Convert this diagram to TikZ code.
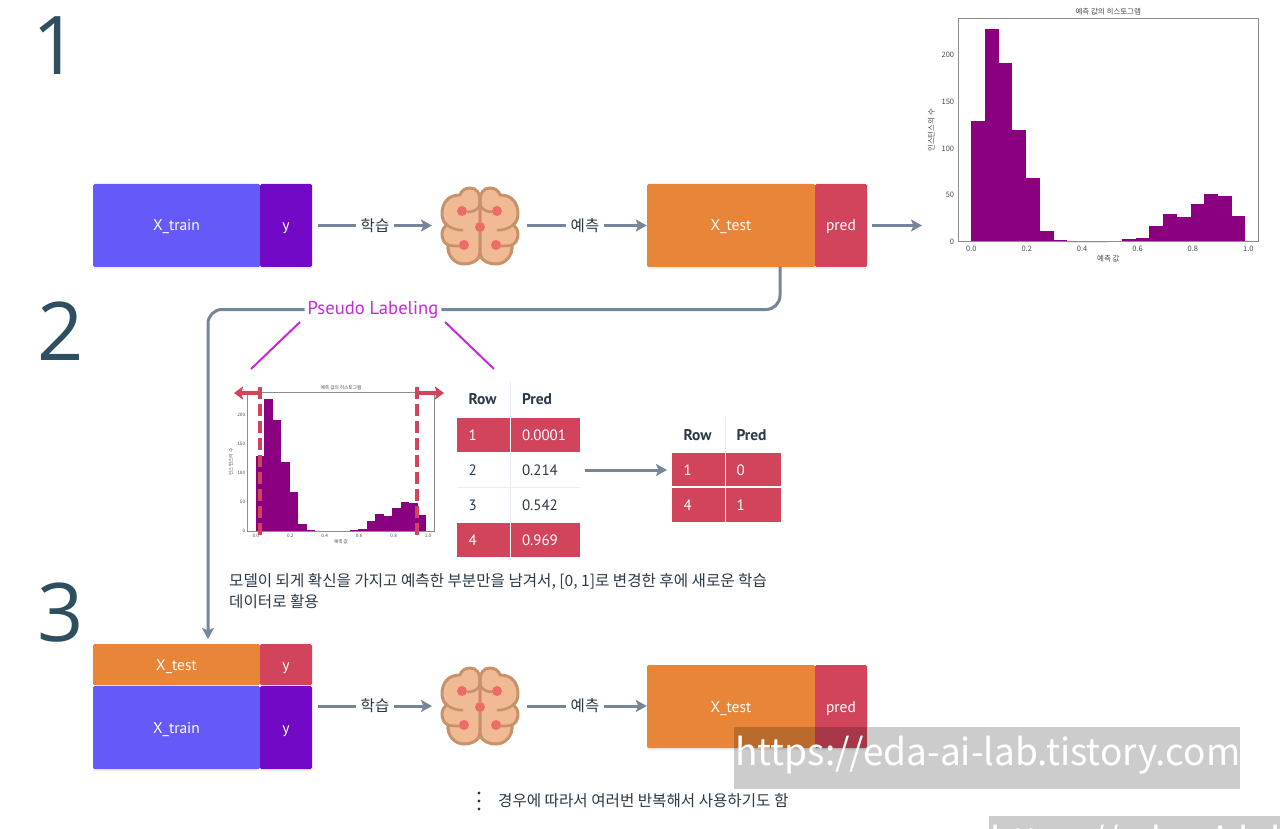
\documentclass[tikz,border=0pt]{standalone}
\usepackage{fontspec}
\usetikzlibrary{arrows.meta,positioning,shadows}
\setmainfont{PT Sans}
\newfontfamily\kr{Noto Sans CJK KR}
\newfontfamily\bignum{Open Sans}
\definecolor{trainblue}{HTML}{6659FA}
\definecolor{trainpurple}{HTML}{7209C7}
\definecolor{testorange}{HTML}{E88538}
\definecolor{predred}{HTML}{D1445B}
\definecolor{flowgray}{HTML}{76869A}
\definecolor{inkdark}{HTML}{2A3947}
\definecolor{numteal}{HTML}{2E4F60}
\definecolor{pseudopink}{HTML}{C32BD6}
\definecolor{barmagenta}{HTML}{8B0080}
\definecolor{brainfill}{HTML}{EFBA94}
\definecolor{brainline}{HTML}{C89168}
\definecolor{braindot}{HTML}{EE6C67}
\definecolor{rulegray}{HTML}{E8EDF3}

\tikzset{
  block/.style={inner sep=0pt, rounded corners=1.5, text=white, text height=11pt, text depth=0pt,
    font=\fontsize{15.5}{15.5}\selectfont, drop shadow={opacity=0.12, shadow xshift=0pt, shadow yshift=-2pt}},
  flow/.style={draw=flowgray, line width=3pt, -{Stealth[length=11pt,width=12pt,inset=2.5pt]}},
  plainflow/.style={draw=flowgray, line width=3pt},
  steplabel/.style={inner sep=0pt, text=inkdark, font=\kr\fontsize{15.5}{15.5}\selectfont},
  bignumber/.style={inner sep=0pt, text=numteal, font=\bignum\fontsize{81}{81}\selectfont},
  pseudoline/.style={draw=pseudopink, line width=2pt},
  redmark/.style={draw=predred, line width=4pt},
  cell/.style={inner sep=0pt, minimum height=34pt, text=inkdark, text width=#1, align=left, font=\fontsize{15}{15}\selectfont},
  cell/.default=30pt,
  headcell/.style={cell=#1, font=\bfseries\fontsize{15.5}{15.5}\selectfont},
  note/.style={inner sep=0pt, anchor=west, text=inkdark, font=\kr\fontsize{15.6}{15.6}\selectfont},
  ticklabel/.style={inner sep=0pt, text=black!70, font=\kr\fontsize{7.5}{7.5}\selectfont},
  watermark/.style={inner sep=0pt, anchor=west, text=white, font=\kr\fontsize{37}{37}\selectfont},
}

% histogram of the predictions, origin at the top left of the frame
\newcommand{\histplot}[1]{
  \foreach \h [count=\i from 0] in {129,228,192,120,68,12,2,0,0,0,1,3,4,17,30,27,40,51,49,28} {
    \fill[barmagenta] ({13+\i*13.7},223.4) rectangle ({13+(\i+1)*13.7},{223.4-\h*0.933});
  }
  \draw[black!45, line width=0.9pt] (0,0) rectangle (300.4,223.4);
  \foreach \t [count=\i from 0] in {0.0,0.2,0.4,0.6,0.8,1.0} {
    \node[ticklabel] (#1x\i) at ({13+\i*55.4},231) {\t};
  }
  \foreach \t [count=\i from 0] in {0,50,100,150,200} {
    \node[ticklabel, anchor=east] (#1y\i) at (-4,{223.4-\i*46.65}) {\t};
  }
  \node[ticklabel] (#1title) at (150,-7) {예측 값의 히스토그램};
  \node[ticklabel] (#1xlab) at (150,240) {예측 값};
  \node[ticklabel, rotate=90] (#1ylab) at (-27,112) {인스턴스의 수};
}

% brain icon, origin at its centre
\newcommand{\brainicon}[2]{
  \begin{scope}[shift={(#1,#2)}]
    \foreach \s in {1,-1} {
      \begin{scope}[xscale=\s]
        \path[fill=brainfill, draw=brainline, line width=3pt, line join=round]
          (0,-25) .. controls (0,-35) and (-4,-39) .. (-10,-39)
          .. controls (-15,-39) and (-19,-36) .. (-20,-32)
          .. controls (-32,-32) and (-38,-24) .. (-38,-13)
          .. controls (-38,-8) and (-36,-4) .. (-33,-2)
          .. controls (-36,0) and (-38,3) .. (-38,7)
          .. controls (-38,12) and (-36,16) .. (-32,18)
          .. controls (-33,28) and (-26,37) .. (-16,37)
          .. controls (-8,37) and (0,33) .. (0,26) -- cycle;
        \draw[brainline, line width=2.6pt, line cap=round] (0,-25) .. controls (0,-18) and (-6,-15) .. (-12,-15);
        \draw[brainline, line width=2.6pt, line cap=round] (-33,-2) .. controls (-26,3) and (-22,3) .. (-18,3);
        \draw[brainline, line width=2.6pt, line cap=round] (0,4) -- (0,26);
        \draw[brainline, line width=2.6pt, line cap=round] (-32,18) .. controls (-28,19) and (-24,19) .. (-20,19);
      \end{scope}
    }
    \foreach \dx/\dy in {-18/-16,17/-16,0/0,-16/18,16/18} {
      \fill[braindot] (\dx,\dy) circle (5);
    }
  \end{scope}
}

\begin{document}
\begin{tikzpicture}[x=1pt, y=-1pt]
\useasboundingbox (0,0) rectangle (1280,829);
\fill[white] (0,0) rectangle (1280,829);

% numbers
\node[bignumber] (one) at (56,46) {1};
\node[bignumber] (two) at (61,331) {2};
\node[bignumber] (three) at (61,613) {3};

% first row
\node[block, fill=trainblue, minimum width=167pt, minimum height=83pt] (xtrain1) at (176.5,225.5) {X\_train};
\node[block, fill=trainpurple, minimum width=52pt, minimum height=83pt] (y1) at (286,225.5) {y};
\node[steplabel] (learn1) at (375,225.5) {학습};
\coordinate (brain1l) at (440,225.5);
\coordinate (brain1r) at (520,225.5);
\brainicon{480}{227}
\node[steplabel] (predict1) at (585,225.5) {예측};
\node[block, fill=testorange, minimum width=168pt, minimum height=83pt] (xtest1) at (731,225.5) {X\_test};
\node[block, fill=predred, minimum width=52pt, minimum height=83pt] (pred1) at (841,225.5) {pred};
\coordinate (plotin) at (922,225.5);
\draw[plainflow, shorten <=6pt, shorten >=5pt] (y1.east) -- (learn1.west);
\draw[flow, shorten <=5pt, shorten >=8pt] (learn1.east) -- (brain1l);
\draw[plainflow, shorten <=7pt, shorten >=5pt] (brain1r) -- (predict1.west);
\draw[flow, shorten <=5pt] (predict1.east) -- (xtest1.west);
\draw[flow, shorten <=5pt] (pred1.east) -- (plotin);

% big histogram
\begin{scope}[shift={(958.3,18.3)}]
\histplot{big}
\end{scope}

% pseudo labeling
\node[inner sep=0pt, text=pseudopink, font=\fontsize{18.6}{18.6}\selectfont] (pseudo) at (373,309.5) {Pseudo Labeling};
\coordinate (pseudoout) at (780,267);
\coordinate (pseudoin) at (208,639);
\draw[plainflow, rounded corners=14pt, shorten >=3pt] (pseudoout) |- (pseudo.east);
\draw[flow, rounded corners=14pt, shorten <=3pt] (pseudo.west) -| (pseudoin);
\coordinate (lineaa) at (300,322);
\coordinate (lineab) at (251,369);
\coordinate (lineba) at (445,322);
\coordinate (linebb) at (494,369);
\draw[pseudoline] (lineaa) -- (lineab);
\draw[pseudoline] (lineba) -- (linebb);

% small histogram
\begin{scope}[shift={(247.7,392.3)}, scale=0.622, transform shape]
\histplot{small}
\end{scope}
\coordinate (cuta) at (260,393);
\coordinate (cutat) at (260,387);
\coordinate (cutab) at (260,535);
\coordinate (cutb) at (417,393);
\coordinate (cutbt) at (417,387);
\coordinate (cutbb) at (417,535);
\coordinate (cutal) at (234,393);
\coordinate (cutbr) at (444,393);
\draw[redmark, dash pattern=on 12pt off 5pt] (cutat) -- (cutab);
\draw[redmark, dash pattern=on 12pt off 5pt] (cutbt) -- (cutbb);
\draw[redmark, -{Stealth[length=9pt,width=13pt,inset=1.5pt]}] (cuta) -- (cutal);
\draw[redmark, -{Stealth[length=9pt,width=13pt,inset=1.5pt]}] (cutb) -- (cutbr);

% table of predictions
\fill[white] (457,381) rectangle (580,417);
\fill[predred] (457,418) rectangle (580,452);
\fill[predred] (457,523) rectangle (580,557);
\draw[rulegray, line width=1pt] (510.5,381) -- (510.5,523);
\draw[rulegray, line width=1pt] (457,487.5) -- (580,487.5);
\draw[white, line width=1pt] (510.5,418) -- (510.5,452);
\draw[white, line width=1pt] (510.5,523) -- (510.5,557);
\node[headcell=30pt] (rowhead) at (483.5,399) {Row};
\node[headcell=58pt] (predhead) at (551,399) {Pred};
\foreach \r/\p/\y/\c [count=\i] in {1/0.0001/435/white,2/0.214/470/inkdark,3/0.542/505/inkdark,4/0.969/540/white} {
  \node[cell, text=\c] (row\i) at (483.5,\y) {\r};
  \node[cell=58pt, text=\c] (pred\i) at (551,\y) {\p};
}

% table of labels
\fill[white] (672,417) rectangle (781,452);
\fill[predred] (672,453) rectangle (781,522);
\draw[rulegray, line width=1pt] (725.5,417) -- (725.5,453);
\draw[white, line width=1pt] (725.5,453) -- (725.5,522);
\draw[white, line width=1.5pt] (672,487) -- (781,487);
\node[headcell=30pt] (lrowhead) at (698.5,435) {Row};
\node[headcell=44pt] (lpredhead) at (758.5,435) {Pred};
\foreach \r/\p/\y [count=\i] in {1/0/470,4/1/505} {
  \node[cell, text=white] (lrow\i) at (698.5,\y) {\r};
  \node[cell=44pt, text=white] (lpred\i) at (758.5,\y) {\p};
}
\draw[flow, shorten <=5pt, shorten >=5pt] (pred2.east) -- (lrow1.west -| 672,470);

% note under the tables
\node[note] (notea) at (229,581) {모델이 되게 확신을 가지고 예측한 부분만을 남겨서, [0, 1]로 변경한 후에 새로운 학습};
\node[note] (noteb) at (229,602) {데이터로 활용};

% third row
\node[block, fill=testorange, minimum width=167pt, minimum height=41pt] (xtest2) at (176.5,664.5) {X\_test};
\node[block, fill=predred, minimum width=52pt, minimum height=41pt] (y2) at (286,664.5) {y};
\node[block, fill=trainblue, minimum width=167pt, minimum height=83pt] (xtrain3) at (176.5,727.5) {X\_train};
\node[block, fill=trainpurple, minimum width=52pt, minimum height=83pt] (y3) at (286,727.5) {y};
\node[steplabel] (learn3) at (375,706) {학습};
\coordinate (brain3l) at (440,706);
\coordinate (brain3r) at (520,706);
\brainicon{480}{707}
\node[steplabel] (predict3) at (585,706) {예측};
\node[block, fill=testorange, minimum width=168pt, minimum height=83pt] (xtest3) at (731,706.5) {X\_test};
\node[block, fill=predred, minimum width=52pt, minimum height=83pt] (pred3) at (841,706.5) {pred};
\draw[plainflow, shorten <=6pt, shorten >=5pt] (y3.east |- learn3.west) -- (learn3.west);
\draw[flow, shorten <=5pt, shorten >=8pt] (learn3.east) -- (brain3l);
\draw[plainflow, shorten <=7pt, shorten >=5pt] (brain3r) -- (predict3.west);
\draw[flow, shorten <=5pt] (predict3.east) -- (xtest3.west |- predict3.east);

% repeat note
\foreach \y in {793,801,809} {
  \fill[inkdark] (479,\y) circle (1.7);
}
\node[note] (repeatnote) at (498,801) {경우에 따라서 여러번 반복해서 사용하기도 함};

% watermarks
\fill[black, opacity=0.2] (734,727) rectangle (1240,789);
\node[watermark] (marka) at (735,755) {https://eda-ai-lab.tistory.com};
\fill[black, opacity=0.2] (989,816) rectangle (1280,829);
\begin{scope}
\clip (0,0) rectangle (1280,829);
\node[watermark] (markb) at (990,844) {https://eda-ai-lab.tistory.com};
\end{scope}
\end{tikzpicture}
\end{document}
